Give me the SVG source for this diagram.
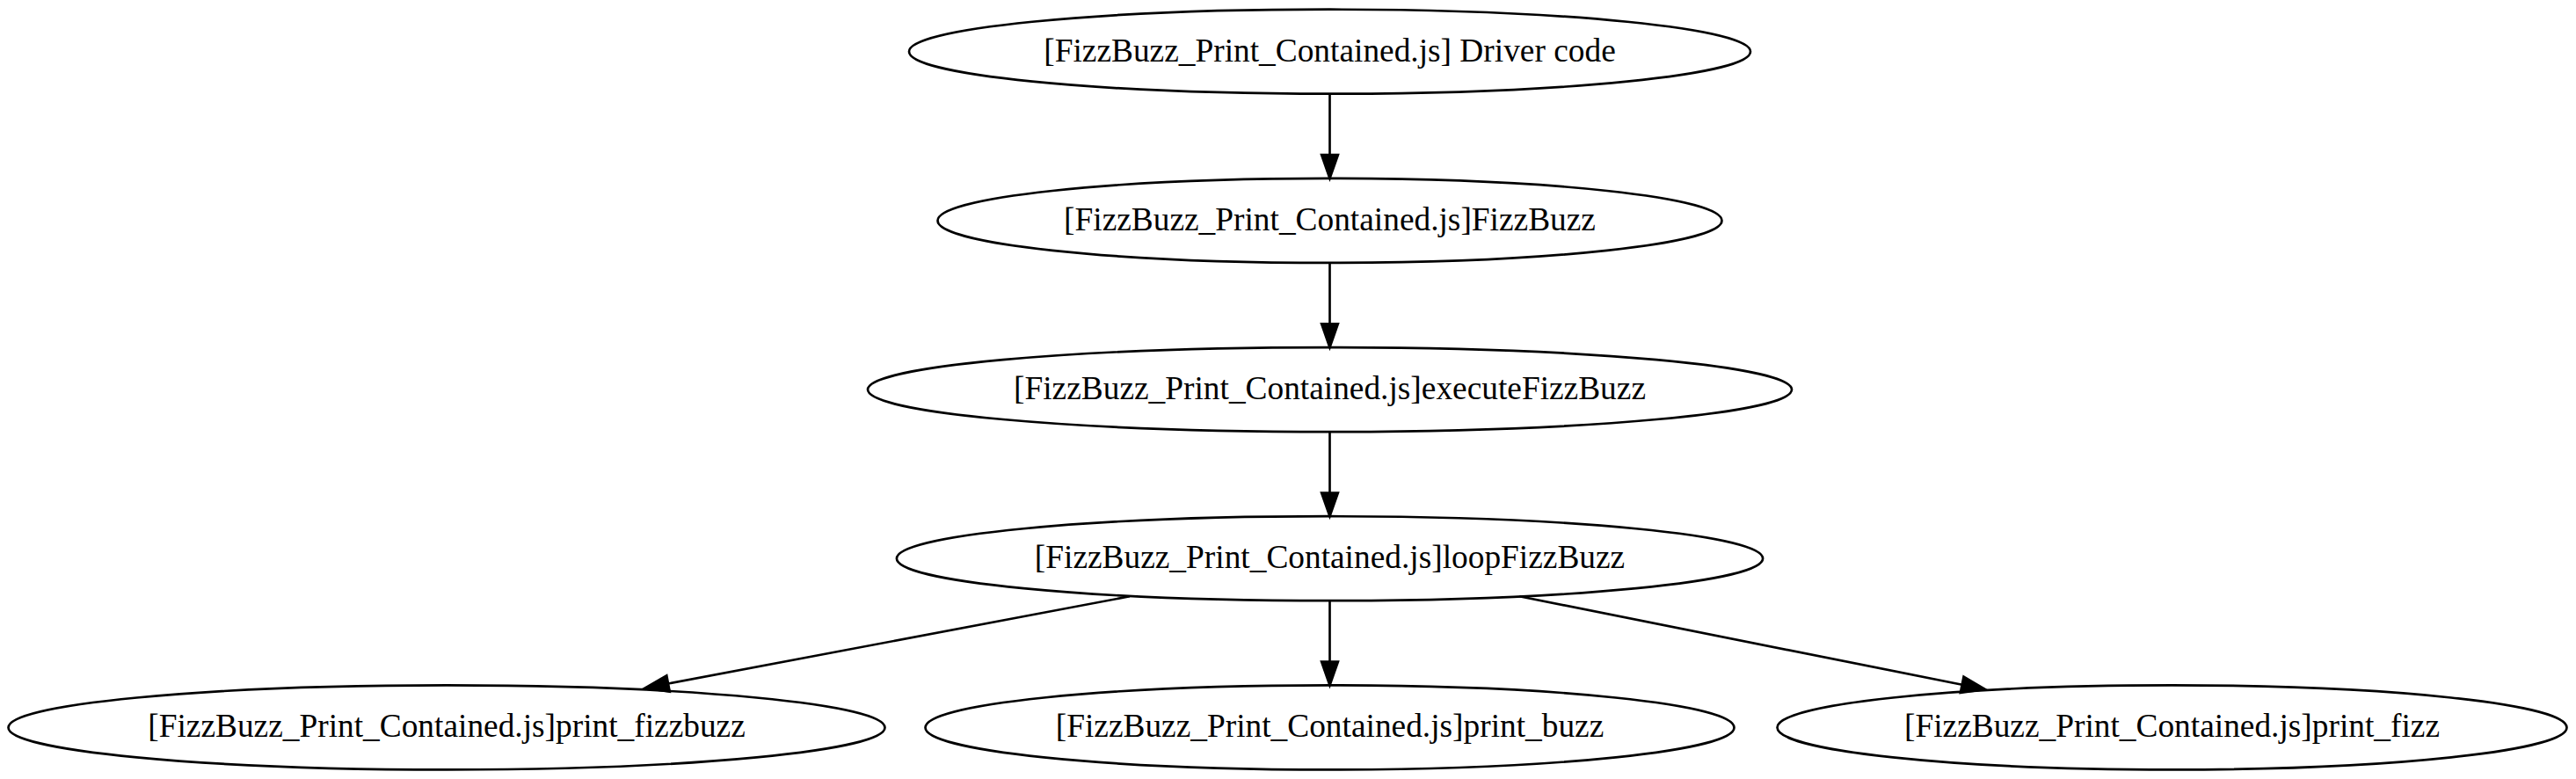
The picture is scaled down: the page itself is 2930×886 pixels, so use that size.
<svg xmlns="http://www.w3.org/2000/svg" width="2930" height="886" viewBox="0 0 2930 886">
<style>
.node ellipse{fill:none;stroke:#000;stroke-width:2.67}
.node text{font-family:"Liberation Serif","Times New Roman",serif;font-size:37.37px;fill:#000;text-anchor:middle}
.edge{fill:none;stroke:#000;stroke-width:2.67}
</style>
<defs>
<marker id="arrow" markerUnits="userSpaceOnUse" markerWidth="28" markerHeight="20" refX="0" refY="9.35" orient="auto" overflow="visible">
<path d="M0,0 L26.7,9.35 L0,18.7 Z" fill="#000" stroke="#000" stroke-width="2.67" stroke-linejoin="miter"/>
</marker>
</defs>
<rect width="2930" height="886" fill="#fff"/>
<g id="connectors">
<path class="edge" d="M1512.5,106.7 L1512.5,176.2" marker-end="url(#arrow)"/>
<path class="edge" d="M1512.5,298.9 L1512.5,368.4" marker-end="url(#arrow)"/>
<path class="edge" d="M1512.5,491.1 L1512.5,560.5" marker-end="url(#arrow)"/>
<path class="edge" d="M1285,678.3 L760,777.5" marker-end="url(#arrow)"/>
<path class="edge" d="M1512.5,683.2 L1512.5,752.7" marker-end="url(#arrow)"/>
<path class="edge" d="M1728.3,678.3 L2231.7,778.7" marker-end="url(#arrow)"/>
</g>
<g id="node_driver" class="node">
<ellipse cx="1512.5" cy="58.7" rx="478.5" ry="48"/>
<text x="1512.5" y="69.7">[FizzBuzz_Print_Contained.js] Driver code</text>
</g>
<g id="node_fizzbuzz" class="node">
<ellipse cx="1512.5" cy="250.9" rx="446" ry="48"/>
<text x="1512.5" y="261.9">[FizzBuzz_Print_Contained.js]FizzBuzz</text>
</g>
<g id="node_executeFizzBuzz" class="node">
<ellipse cx="1512.5" cy="443.1" rx="525.5" ry="48"/>
<text x="1512.5" y="454.1">[FizzBuzz_Print_Contained.js]executeFizzBuzz</text>
</g>
<g id="node_loopFizzBuzz" class="node">
<ellipse cx="1512.5" cy="635.2" rx="492.6" ry="48"/>
<text x="1512.5" y="646.2">[FizzBuzz_Print_Contained.js]loopFizzBuzz</text>
</g>
<g id="node_print_fizzbuzz" class="node">
<ellipse cx="508" cy="827.4" rx="498.5" ry="48"/>
<text x="508" y="838.4">[FizzBuzz_Print_Contained.js]print_fizzbuzz</text>
</g>
<g id="node_print_buzz" class="node">
<ellipse cx="1512.5" cy="827.4" rx="460" ry="48"/>
<text x="1512.5" y="838.4">[FizzBuzz_Print_Contained.js]print_buzz</text>
</g>
<g id="node_print_fizz" class="node">
<ellipse cx="2470.5" cy="827.4" rx="449" ry="48"/>
<text x="2470.5" y="838.4">[FizzBuzz_Print_Contained.js]print_fizz</text>
</g>
</svg>
